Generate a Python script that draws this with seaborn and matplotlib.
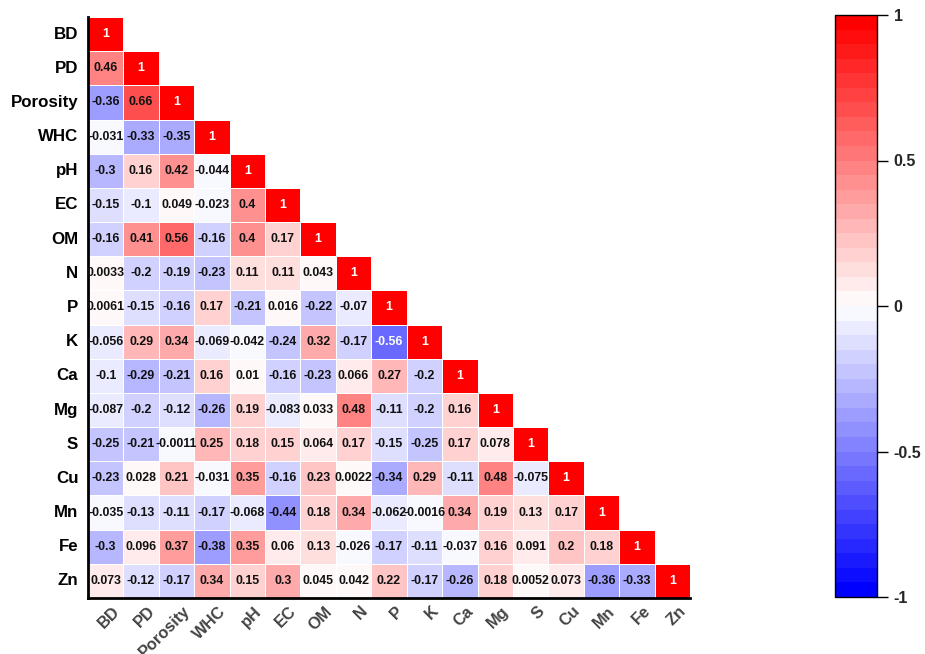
import numpy as np
import pandas as pd
import seaborn as sns
import matplotlib
matplotlib.use("Agg")
import matplotlib.pyplot as plt
import matplotlib.transforms as mtransforms
from matplotlib.colors import LinearSegmentedColormap

labels = ["BD", "PD", "Porosity", "WHC", "pH", "EC", "OM", "N", "P", "K",
          "Ca", "Mg", "S", "Cu", "Mn", "Fe", "Zn"]

# Lower-triangle correlation rows (including the diagonal)
r_BD = ["1"]
r_PD = ["0.46", "1"]
r_Porosity = ["-0.36", "0.66", "1"]
r_WHC = ["-0.031", "-0.33", "-0.35", "1"]
r_pH = ["-0.3", "0.16", "0.42", "-0.044", "1"]
r_EC = ["-0.15", "-0.1", "0.049", "-0.023", "0.4", "1"]
r_OM = ["-0.16", "0.41", "0.56", "-0.16", "0.4", "0.17", "1"]
r_N = ["0.0033", "-0.2", "-0.19", "-0.23", "0.11", "0.11", "0.043", "1"]
r_P = ["0.0061", "-0.15", "-0.16", "0.17", "-0.21", "0.016", "-0.22", "-0.07", "1"]
r_K = ["-0.056", "0.29", "0.34", "-0.069", "-0.042", "-0.24", "0.32", "-0.17", "-0.56", "1"]
r_Ca = ["-0.1", "-0.29", "-0.21", "0.16", "0.01", "-0.16", "-0.23", "0.066", "0.27", "-0.2", "1"]
r_Mg = ["-0.087", "-0.2", "-0.12", "-0.26", "0.19", "-0.083", "0.033", "0.48", "-0.11", "-0.2",
        "0.16", "1"]
r_S = ["-0.25", "-0.21", "-0.0011", "0.25", "0.18", "0.15", "0.064", "0.17", "-0.15", "-0.25",
       "0.17", "0.078", "1"]
r_Cu = ["-0.23", "0.028", "0.21", "-0.031", "0.35", "-0.16", "0.23", "0.0022", "-0.34", "0.29",
        "-0.11", "0.48", "-0.075", "1"]
r_Mn = ["-0.035", "-0.13", "-0.11", "-0.17", "-0.068", "-0.44", "0.18", "0.34", "-0.062", "-0.0016",
        "0.34", "0.19", "0.13", "0.17", "1"]
r_Fe = ["-0.3", "0.096", "0.37", "-0.38", "0.35", "0.06", "0.13", "-0.026", "-0.17", "-0.11",
        "-0.037", "0.16", "0.091", "0.2", "0.18", "1"]
r_Zn = ["0.073", "-0.12", "-0.17", "0.34", "0.15", "0.3", "0.045", "0.042", "0.22", "-0.17",
        "-0.26", "0.18", "0.0052", "0.073", "-0.36", "-0.33", "1"]

rows = [r_BD, r_PD, r_Porosity, r_WHC, r_pH, r_EC, r_OM, r_N, r_P, r_K,
        r_Ca, r_Mg, r_S, r_Cu, r_Mn, r_Fe, r_Zn]

n = len(labels)
vals = np.full((n, n), np.nan)
text = np.full((n, n), "", dtype=object)
for i, row in enumerate(rows):
    for j, s in enumerate(row):
        vals[i, j] = float(s)
        text[i, j] = s

df = pd.DataFrame(vals, index=labels, columns=labels)
mask = np.isnan(vals)

sns.set_theme(style="white")
plt.rcParams["font.family"] = ["Liberation Sans", "DejaVu Sans"]
plt.rcParams["font.weight"] = "bold"

cmap = LinearSegmentedColormap.from_list("bwr_steps", ["#0000ff", "#ffffff", "#ff0000"], N=40)

fig = plt.figure(figsize=(9.25, 6.54), dpi=100)
W, H = 925, 654
ax = fig.add_axes([88 / W, (H - 598) / H, (690 - 88) / W, (598 - 17) / H])
cax = fig.add_axes([835 / W, (H - 597) / H, 42 / W, (597 - 15) / H])

sns.heatmap(df, mask=mask, cmap=cmap, vmin=-1, vmax=1, ax=ax, cbar_ax=cax,
            annot=text, fmt="", annot_kws={"fontsize": 8.9, "fontweight": "bold"},
            linewidths=0.5, linecolor="white", square=False)

# white text on the diagonal and on strongly negative cells
for t in ax.texts:
    s = t.get_text()
    if s:
        v = float(s)
        t.set_color("white" if (v >= 0.9 or v <= -0.5) else "#111111")

ax.set_xlabel("")
ax.set_ylabel("")
ax.set_yticklabels(labels, rotation=0, fontsize=12.2, fontweight="bold", color="black")
ax.set_xticklabels(labels, rotation=45, ha="right", rotation_mode="anchor",
                   fontsize=11.8, fontweight="bold", color="#444444")
ax.tick_params(axis="y", length=0, pad=7)
ax.tick_params(axis="x", length=0, pad=4)
# nudge the slanted labels so their ends sit just right of each column centre
shift = mtransforms.ScaledTranslation(6 / 100, 0 / 100, fig.dpi_scale_trans)
for lbl in ax.get_xticklabels():
    lbl.set_transform(lbl.get_transform() + shift)
for side in ["left", "bottom"]:
    ax.spines[side].set_visible(True)
    ax.spines[side].set_color("black")
    ax.spines[side].set_linewidth(2)
for side in ["right", "top"]:
    ax.spines[side].set_visible(False)

cb = ax.collections[0].colorbar
cb.set_ticks([-1, -0.5, 0, 0.5, 1])
cb.set_ticklabels(["-1", "-0.5", "0", "0.5", "1"])
cax.tick_params(axis="y", length=8, width=1, color="black", labelsize=11.5, pad=4, right=True)
for lbl in cax.get_yticklabels():
    lbl.set_fontweight("bold")
cb.outline.set_visible(True)
cb.outline.set_edgecolor("black")
cb.outline.set_linewidth(1)

fig.savefig("out.png", dpi=100, facecolor="white")
